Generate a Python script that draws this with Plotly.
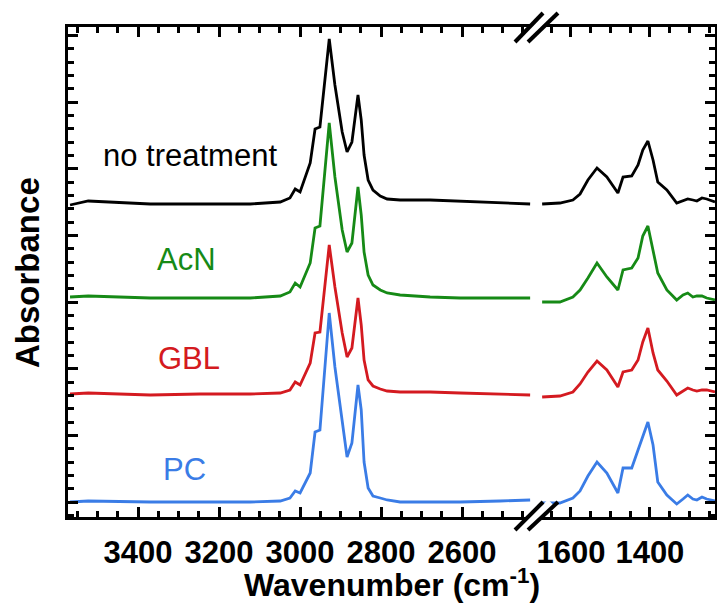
import plotly.graph_objects as go

# Wavenumbers (cm-1) of the sampled points, high-wavenumber region
wn_hi = [3568, 3523, 3370, 3247, 3123, 3049, 3025, 3012, 3000, 2975, 2963, 2951,
         2928, 2914, 2896, 2884, 2872, 2857, 2849, 2842, 2832, 2820, 2802, 2785,
         2753, 2679, 2605, 2506, 2432]
# Wavenumbers (cm-1), fingerprint region
wn_lo = [1673, 1628, 1595, 1577, 1557, 1534, 1509, 1481, 1468, 1446, 1430, 1418,
         1405, 1392, 1380, 1357, 1332, 1316, 1304, 1291, 1281, 1268, 1256, 1235]

# Absorbance (offset for display)
no_treatment_hi = [0.4455, 0.4515, 0.447, 0.447, 0.447, 0.45, 0.456, 0.4695, 0.465, 0.5085,
                   0.5595, 0.5625, 0.6945, 0.6255, 0.555, 0.525, 0.54, 0.6105, 0.573, 0.5205,
                   0.483, 0.468, 0.459, 0.4545, 0.453, 0.453, 0.4515, 0.4485, 0.447]
no_treatment_lo = [0.447, 0.4485, 0.453, 0.462, 0.483, 0.501, 0.4875, 0.4635, 0.4875, 0.489,
                   0.5055, 0.528, 0.5415, 0.513, 0.48, 0.468, 0.4485, 0.4515, 0.4545, 0.453,
                   0.4515, 0.456, 0.4545, 0.45]

acn_hi = [0.3075, 0.309, 0.306, 0.306, 0.306, 0.309, 0.315, 0.3285, 0.3225, 0.3585,
          0.411, 0.414, 0.5685, 0.4875, 0.408, 0.375, 0.3885, 0.4725, 0.4305, 0.375,
          0.3405, 0.3255, 0.318, 0.3135, 0.3105, 0.3075, 0.306, 0.306, 0.306]
acn_lo = [0.3, 0.3, 0.3075, 0.318, 0.336, 0.3585, 0.3375, 0.318, 0.348, 0.351,
          0.366, 0.399, 0.414, 0.378, 0.3435, 0.318, 0.303, 0.3105, 0.3135, 0.3075,
          0.309, 0.309, 0.306, 0.303]

gbl_hi = [0.162, 0.1635, 0.1605, 0.162, 0.162, 0.1635, 0.168, 0.18, 0.1755, 0.2085,
          0.2535, 0.255, 0.3855, 0.3225, 0.2535, 0.2175, 0.231, 0.306, 0.2655, 0.213,
          0.183, 0.174, 0.1695, 0.1665, 0.165, 0.165, 0.1635, 0.162, 0.1605]
gbl_lo = [0.1575, 0.159, 0.165, 0.177, 0.195, 0.2115, 0.198, 0.1725, 0.195, 0.198,
          0.213, 0.24, 0.261, 0.2235, 0.198, 0.1815, 0.1605, 0.1665, 0.171, 0.168,
          0.1665, 0.168, 0.168, 0.165]

pc_hi = [0.0, 0.0015, 0.0, 0.0, 0.0, 0.0015, 0.006, 0.0165, 0.0135, 0.0435,
         0.105, 0.108, 0.2835, 0.2025, 0.123, 0.0675, 0.0885, 0.1755, 0.138, 0.06,
         0.021, 0.009, 0.006, 0.003, 0.0, 0.0, 0.0, 0.0015, 0.003]
pc_lo = [-0.0015, -0.0015, 0.006, 0.0165, 0.039, 0.06, 0.0435, 0.0135, 0.051, 0.051,
         0.078, 0.099, 0.12, 0.0855, 0.03, 0.0105, -0.003, 0.0045, 0.0105, 0.0045,
         0.003, 0.0075, 0.0045, 0.0015]

labels = ["no treatment", "AcN", "GBL", "PC"]
colors = ["#000000", "#168a16", "#d41a20", "#3a7ce6"]
label_wn = [3272, 3281, 3274, 3286]
label_abs = [0.5205, 0.3645, 0.216, 0.0495]

hi_sets = [no_treatment_hi, acn_hi, gbl_hi, pc_hi]
lo_sets = [no_treatment_lo, acn_lo, gbl_lo, pc_lo]

FONT = "Liberation Sans, Arial, sans-serif"

fig = go.Figure()
for name, col, hi, lo in zip(labels, colors, hi_sets, lo_sets):
    fig.add_trace(go.Scatter(x=wn_hi, y=hi, xaxis="x", yaxis="y", mode="lines",
                             line=dict(color=col, width=2.8), name=name, showlegend=False))
    fig.add_trace(go.Scatter(x=wn_lo, y=lo, xaxis="x2", yaxis="y2", mode="lines",
                             line=dict(color=col, width=2.8), name=name, showlegend=False))

split = 0.7249
common_x = dict(showline=True, linewidth=3, linecolor="black", mirror="ticks",
                ticks="inside", ticklen=10, tickwidth=3, tickcolor="black",
                dtick=200, tick0=0, showgrid=False, zeroline=False, automargin=False,
                minor=dict(dtick=50, ticks="inside", ticklen=6, tickwidth=2.5,
                           tickcolor="black", showgrid=False),
                tickfont=dict(family=FONT, size=31, color="black", weight="bold"),
                ticklabelstandoff=6)
common_y = dict(showline=True, linewidth=3, linecolor="black", automargin=False,
                ticks="inside", ticklen=10, tickwidth=3, tickcolor="black",
                dtick=0.1, tick0=0, showgrid=False, zeroline=False,
                showticklabels=False, range=[-0.0225, 0.7125],
                minor=dict(dtick=0.02, ticks="inside", ticklen=6, tickwidth=2.5,
                           tickcolor="black", showgrid=False))

fig.update_layout(
    width=717, height=603,
    margin=dict(l=68, r=2, t=27, b=86, autoexpand=False),
    paper_bgcolor="white", plot_bgcolor="white",
    xaxis=dict(domain=[0, split], range=[3573, 2415], anchor="y", **common_x),
    xaxis2=dict(domain=[split, 1], range=[1686, 1235], anchor="y2", **common_x),
    yaxis=dict(domain=[0, 1], anchor="x", side="left", **common_y),
    yaxis2=dict(domain=[0, 1], anchor="x2", side="right", matches="y", **common_y),
)

for name, col, xw, ya in zip(labels, colors, label_wn, label_abs):
    fig.add_annotation(x=xw, y=ya, xref="x", yref="y", text=name, showarrow=False,
                       font=dict(family=FONT, size=31, color=col),
                       xanchor="center", yanchor="middle")

fig.add_annotation(x=0.5, y=-0.135, xref="paper", yref="paper",
                   text="Wavenumber (cm<sup>-1</sup>)", showarrow=False,
                   font=dict(family=FONT, size=32, color="black", weight="bold"),
                   xanchor="center", yanchor="middle")
fig.add_annotation(x=-0.0634, y=0.5, xref="paper", yref="paper",
                   text="Absorbance", textangle=-90, showarrow=False,
                   font=dict(family=FONT, size=33, color="black", weight="bold"),
                   xanchor="center", yanchor="middle")

# Axis-break markers (//) at top and bottom
for (ya, yb) in [(0.9694, 1.0286), (-0.0265, 0.0306)]:
    fig.add_shape(type="line", xref="paper", yref="paper", x0=0.7009, y0=ya,
                  x1=0.7457, y1=yb, line=dict(color="white", width=7), layer="above")
    fig.add_shape(type="line", xref="paper", yref="paper", x0=0.6909, y0=ya,
                  x1=0.7342, y1=yb, line=dict(color="black", width=4), layer="above")
    fig.add_shape(type="line", xref="paper", yref="paper", x0=0.7110, y0=ya,
                  x1=0.7573, y1=yb, line=dict(color="black", width=4), layer="above")

fig.write_html("out.html", config={"displayModeBar": False},
               post_script="document.body.style.margin='0';")
